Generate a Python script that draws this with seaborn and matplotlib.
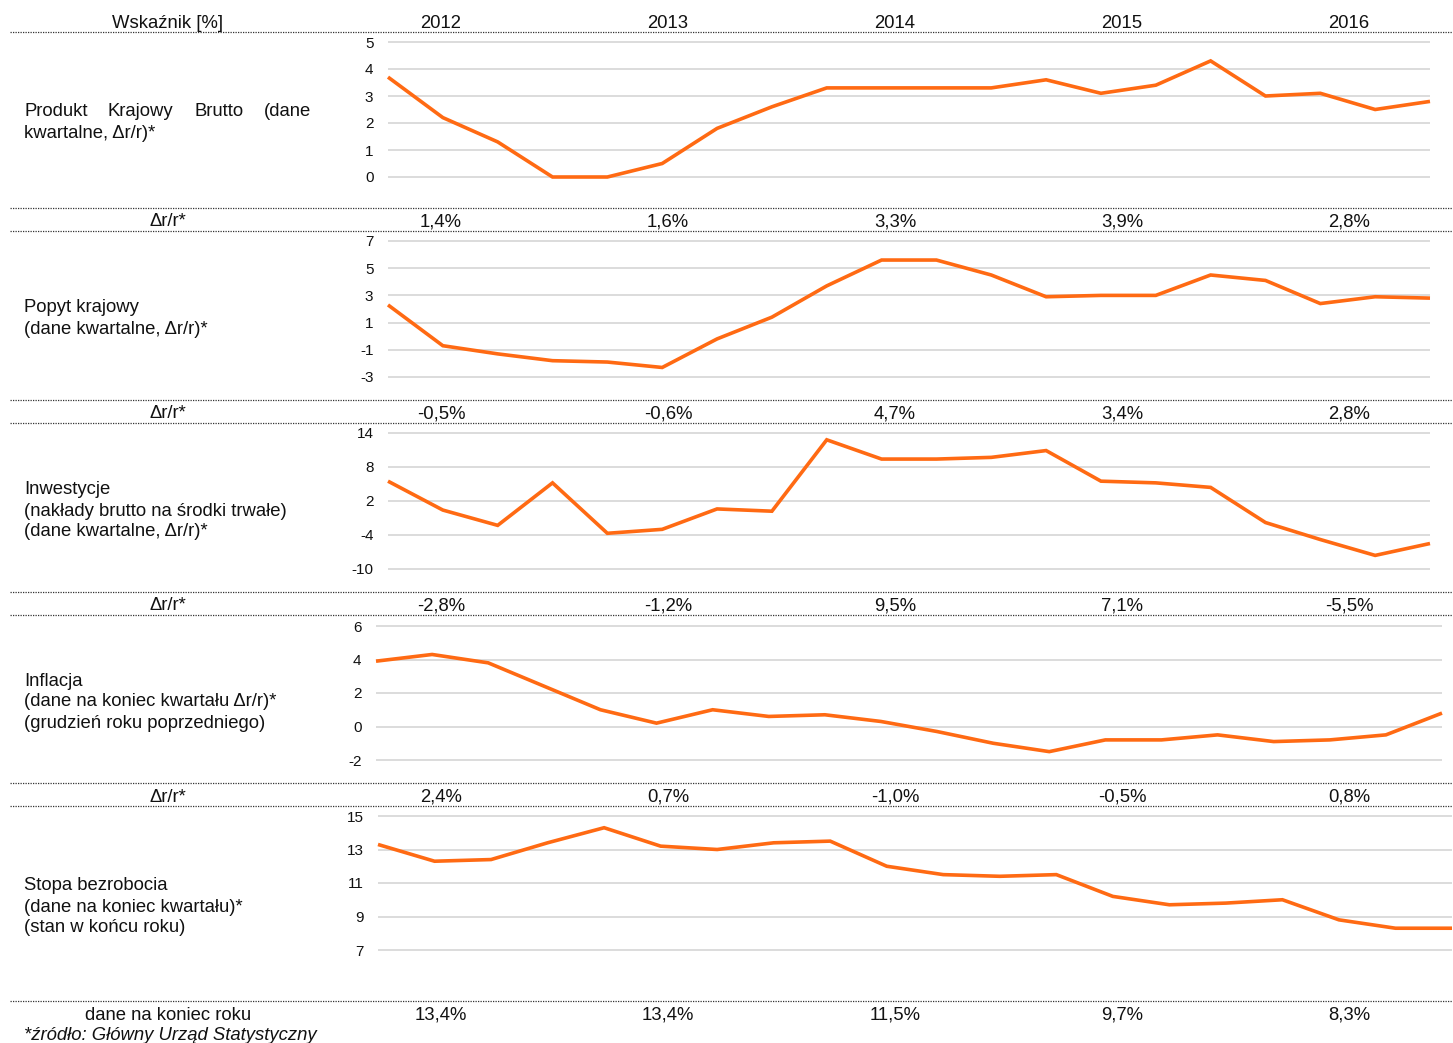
import matplotlib
matplotlib.use("Agg")
import matplotlib.pyplot as plt
import seaborn as sns
import pandas as pd
from matplotlib.lines import Line2D
from matplotlib.ticker import FixedLocator

# ---------------- data ----------------
years = ["2012", "2013", "2014", "2015", "2016"]
quarters = [f"{y} Q{q}" for y in years for q in range(1, 5)]

gdp = [3.7, 2.2, 1.3, 0.0, 0.0, 0.5, 1.8, 2.6, 3.3, 3.3,
       3.3, 3.3, 3.6, 3.1, 3.4, 4.3, 3.0, 3.1, 2.5, 2.8]
demand = [2.3, -0.7, -1.3, -1.8, -1.9, -2.3, -0.2, 1.4, 3.7, 5.6,
          5.6, 4.5, 2.9, 3.0, 3.0, 4.5, 4.1, 2.4, 2.9, 2.8]
invest = [5.5, 0.4, -2.3, 5.2, -3.7, -3.0, 0.6, 0.2, 12.8, 9.4,
          9.4, 9.7, 10.9, 5.5, 5.2, 4.4, -1.8, -4.8, -7.6, -5.5]
inflation = [3.9, 4.3, 3.8, 2.4, 1.0, 0.2, 1.0, 0.6, 0.7, 0.3,
             -0.3, -1.0, -1.5, -0.8, -0.8, -0.5, -0.9, -0.8, -0.5, 0.8]
unemployment = [13.3, 12.3, 12.4, 13.4, 14.3, 13.2, 13.0, 13.4, 13.5, 12.0,
                11.5, 11.4, 11.5, 10.2, 9.7, 9.8, 10.0, 8.8, 8.3, 8.3]

gdp_annual = [1.4, 1.6, 3.3, 3.9, 2.8]
demand_annual = [-0.5, -0.6, 4.7, 3.4, 2.8]
invest_annual = [-2.8, -1.2, 9.5, 7.1, -5.5]
inflation_annual = [2.4, 0.7, -1.0, -0.5, 0.8]
unemployment_annual = [13.4, 13.4, 11.5, 9.7, 8.3]

gdp_ticks = [0, 1, 2, 3, 4, 5]
demand_ticks = [-3, -1, 1, 3, 5, 7]
invest_ticks = [-10, -4, 2, 8, 14]
inflation_ticks = [-2, 0, 2, 4, 6]
unemployment_ticks = [7, 9, 11, 13, 15]

header_label = "Wskaźnik [%]"
row_label = "Δr/r*"
last_row_label = "dane na koniec roku"
footnote = "*źródło: Główny Urząd Statystyczny"

# ---------------- style ----------------
W, H = 1453, 1043
sns.set_theme(style="white")
plt.rcParams["font.family"] = ["Liberation Sans", "DejaVu Sans"]
plt.rcParams["axes.unicode_minus"] = False

ORANGE = "#FF6A13"
GRID = "#D9D9D9"
TXT = "#111111"
FS = 13.3
TFS = 11
DY = 2  # text vertical nudge (px)

fig = plt.figure(figsize=(W / 100, H / 100), dpi=100)
fig.patch.set_facecolor("white")


def fx(px):
    return px / W


def fy(py):
    return 1 - py / H


def ty(py):
    return fy(py + DY)


def hline(py):
    fig.add_artist(Line2D([fx(10), fx(1453)], [fy(py), fy(py)],
                          transform=fig.transFigure, color="#333333",
                          lw=0.9, linestyle=(0, (1, 1))))


def panel(values, ticks, x0, x1, ytop, ybot):
    ymin, ymax = ticks[0], ticks[-1]
    ppu = (ybot - ytop) / (ymax - ymin)
    pad = 4 / ppu
    top = ytop - 4
    bot = ybot + 4
    ax = fig.add_axes([fx(x0), fy(bot), fx(x1) - fx(x0), (bot - top) / H])
    df = pd.DataFrame({"kwartal": range(len(values)), "wartosc": values})
    sns.lineplot(data=df, x="kwartal", y="wartosc", ax=ax, color=ORANGE,
                 lw=2.6)
    for ln in ax.lines:
        ln.set_clip_on(False)
        ln.set_zorder(3)
        ln.set_solid_joinstyle("miter")
        ln.set_solid_capstyle("butt")
    ax.set_xlim(0, len(values) - 1)
    ax.set_ylim(ymin - pad, ymax + pad)
    ax.yaxis.set_major_locator(FixedLocator(ticks))
    ax.set_yticklabels([str(t) for t in ticks])
    ax.set_xticks([])
    ax.set_xlabel("")
    ax.set_ylabel("")
    for s in ax.spines.values():
        s.set_visible(False)
    ax.set_facecolor("none")
    ax.grid(axis="y", color=GRID, lw=1.3)
    ax.set_axisbelow(True)
    ax.tick_params(axis="y", length=0, pad=10.5, labelsize=TFS,
                   labelcolor=TXT)
    return ax


# header
fig.text(fx(168), ty(21), header_label, ha="center", va="center",
         fontsize=FS, color=TXT)
col_x = [441 + 227 * i for i in range(5)]
for cx, y in zip(col_x, years):
    fig.text(fx(cx), ty(21), y, ha="center", va="center", fontsize=FS,
             color=TXT)

for py in [32, 208, 231, 400, 423, 592, 615, 783, 806, 1001]:
    hline(py)

# panels
panel(gdp, gdp_ticks, 388, 1430, 42, 177)
panel(demand, demand_ticks, 388, 1430, 241, 377)
panel(invest, invest_ticks, 388, 1430, 433, 569)
panel(inflation, inflation_ticks, 376, 1442, 626, 760)
panel(unemployment, unemployment_ticks, 378, 1452, 816, 950)


def fmt(v):
    return f"{v:.1f}".replace(".", ",") + "%"


for row_y, vals, lab in [(220, gdp_annual, row_label),
                         (412, demand_annual, row_label),
                         (604, invest_annual, row_label),
                         (795, inflation_annual, row_label),
                         (1013, unemployment_annual, last_row_label)]:
    fig.text(fx(168), ty(row_y), lab, ha="center", va="center",
             fontsize=FS, color=TXT)
    for cx, v in zip(col_x, vals):
        fig.text(fx(cx), ty(row_y), fmt(v), ha="center", va="center",
                 fontsize=FS, color=TXT)

# left descriptions
first_words = [("Produkt", 24), ("Krajowy", 108), ("Brutto", 194),
               ("(dane", 264)]
for w, px in first_words:
    fig.text(fx(px), ty(110), w, ha="left", va="center", fontsize=FS,
             color=TXT)
labels = [
    (131, "kwartalne, Δr/r)*"),
    (306, "Popyt krajowy"),
    (327, "(dane kwartalne, Δr/r)*"),
    (488, "Inwestycje"),
    (509, "(nakłady brutto na środki trwałe)"),
    (530, "(dane kwartalne, Δr/r)*"),
    (679, "Inflacja"),
    (700, "(dane na koniec kwartału Δr/r)*"),
    (721, "(grudzień roku poprzedniego)"),
    (884, "Stopa bezrobocia"),
    (905, "(dane na koniec kwartału)*"),
    (926, "(stan w końcu roku)"),
]
for py, t in labels:
    fig.text(fx(24), ty(py), t, ha="left", va="center", fontsize=FS,
             color=TXT)

fig.text(fx(24), ty(1033), footnote, ha="left", va="center", fontsize=FS,
         color=TXT, style="italic")

fig.savefig("out.png", dpi=100, facecolor="white")
